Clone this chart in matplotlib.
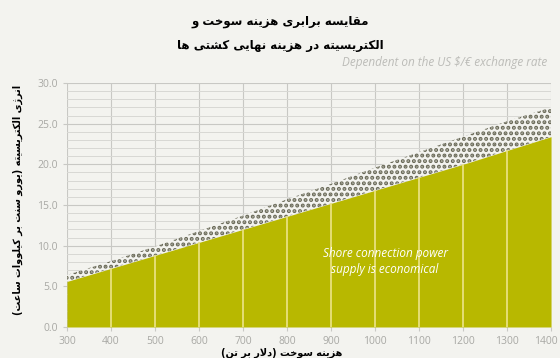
import numpy as np
import matplotlib
matplotlib.use("Agg")
import matplotlib.pyplot as plt
import matplotlib.transforms as mtransforms
from matplotlib.ticker import MultipleLocator, FormatStrFormatter

# داده ها (خوانده شده از تصویر)
fuel_cost = [300, 400, 500, 600, 700, 800, 900, 1000, 1100, 1200, 1300, 1400]
power_low = [5.6, 7.2, 8.8, 10.4, 12.0, 13.6, 15.2, 16.8, 18.4, 20.0, 21.7, 23.4]
power_high = [6.4, 8.1, 9.9, 11.8, 13.7, 15.7, 17.6, 19.6, 21.5, 23.4, 25.3, 27.0]
x_ticks = [300, 400, 500, 600, 700, 800, 900, 1000, 1100, 1200, 1300, 1400]

title_fa = ["مقایسه برابری هزینه سوخت و", "الکتریسیته در هزینه نهایی کشتی ها"]
ylabel_fa = "انرژی الکتریسیته (یورو سنت بر کیلووات ساعت)"
xlabel_fa = "هزینه سوخت (دلار بر تن)"
subtitle = "Dependent on the US \$/€ exchange rate"
inside_text = "Shore connection power\nsupply is economical"

# شکل دادن ساده به حروف فارسی (matplotlib خودش حروف را به هم وصل نمی کند)
# (isolated, final, initial, medial)
FORMS = {
    "ا": ("\uFE8D", "\uFE8E"), "د": ("\uFEA9", "\uFEAA"), "ر": ("\uFEAD", "\uFEAE"),
    "ز": ("\uFEAF", "\uFEB0"), "ژ": ("\uFB8A", "\uFB8B"), "و": ("\uFEED", "\uFEEE"),
    "ب": ("\uFE8F", "\uFE90", "\uFE91", "\uFE92"), "ت": ("\uFE95", "\uFE96", "\uFE97", "\uFE98"),
    "خ": ("\uFEA5", "\uFEA6", "\uFEA7", "\uFEA8"), "س": ("\uFEB1", "\uFEB2", "\uFEB3", "\uFEB4"),
    "ش": ("\uFEB5", "\uFEB6", "\uFEB7", "\uFEB8"), "ع": ("\uFEC9", "\uFECA", "\uFECB", "\uFECC"),
    "ق": ("\uFED5", "\uFED6", "\uFED7", "\uFED8"), "ک": ("\uFB8E", "\uFB8F", "\uFB90", "\uFB91"),
    "ل": ("\uFEDD", "\uFEDE", "\uFEDF", "\uFEE0"), "م": ("\uFEE1", "\uFEE2", "\uFEE3", "\uFEE4"),
    "ن": ("\uFEE5", "\uFEE6", "\uFEE7", "\uFEE8"), "ه": ("\uFEE9", "\uFEEA", "\uFEEB", "\uFEEC"),
    "ی": ("\uFBFC", "\uFBFD", "\uFBFE", "\uFBFF"),
}


def fa(text):
    chars = list(text)
    out = []
    i = 0
    while i < len(chars):
        c = chars[i]
        prev = chars[i - 1] if i > 0 else None
        join_prev = prev in FORMS and len(FORMS[prev]) == 4
        # لام الف
        if c == "ل" and i + 1 < len(chars) and chars[i + 1] == "ا":
            out.append("\uFEFC" if join_prev else "\uFEFB")
            i += 2
            continue
        if c not in FORMS:
            out.append({"(": ")", ")": "("}.get(c, c))
            i += 1
            continue
        f = FORMS[c]
        nxt = chars[i + 1] if i + 1 < len(chars) else None
        join_next = len(f) == 4 and nxt in FORMS
        if join_prev and join_next:
            out.append(f[3])
        elif join_prev:
            out.append(f[1])
        elif join_next:
            out.append(f[2])
        else:
            out.append(f[0])
        i += 1
    return "".join(out[::-1])


bg = "#f3f3ef"
green = "#b8b800"
plt.rcParams["hatch.linewidth"] = 2.0

fig = plt.figure(figsize=(5.6, 3.58), dpi=100, facecolor=bg)
ax = fig.add_axes([0.1196, 0.0866, 0.8644, 0.6816], facecolor=bg)

ax.fill_between(fuel_cost, power_low, power_high, facecolor=bg, edgecolor="#6a6a58",
                hatch="...", linewidth=0, zorder=2)
ax.fill_between(fuel_cost, 0, power_low, color=green, linewidth=0, zorder=3)
ax.vlines(fuel_cost[1:-1], 0, power_low[1:-1], color="#ece48a", linewidth=1.2, zorder=4)

ax.set_xlim(300, 1400)
ax.set_ylim(0, 30)
ax.set_xticks(x_ticks)
ax.yaxis.set_major_locator(MultipleLocator(5))
ax.yaxis.set_minor_locator(MultipleLocator(1))
ax.yaxis.set_major_formatter(FormatStrFormatter("%.1f"))
ax.grid(True, which="major", color="#c8c8c4", linewidth=0.8, zorder=0)
ax.grid(True, which="minor", axis="y", color="#d8d8d4", linewidth=0.7, zorder=0)
ax.set_axisbelow(True)
for s in ax.spines.values():
    s.set_visible(False)
ax.tick_params(colors="#c8c8c4", labelcolor="#a8a8a4", labelsize=7.5, length=3, width=0.8)
ax.tick_params(which="minor", length=0)
for lab in ax.get_xticklabels() + ax.get_yticklabels():
    lab.set_family("Open Sans")
# 1400 کمی به چپ تا بیرون نزند
last = ax.get_xticklabels()[-1]
last.set_transform(last.get_transform() + mtransforms.ScaledTranslation(-4 / 72, 0, fig.dpi_scale_trans))

ax.text(1023, 8.1, inside_text, color="white", style="italic", fontsize=8.5,
        ha="center", va="center", linespacing=1.3, family="Open Sans", zorder=5)

fig.text(0.5, 0.94, fa(title_fa[0]), ha="center", va="center", fontsize=8.5,
         fontweight="bold", family="DejaVu Sans")
fig.text(0.5, 0.872, fa(title_fa[1]), ha="center", va="center", fontsize=8.5,
         fontweight="bold", family="DejaVu Sans")
fig.text(0.978, 0.826, subtitle, ha="right", va="center", fontsize=8.5,
         style="italic", color="#bcbcb8", family="Open Sans")
fig.text(0.032, 0.441, fa(ylabel_fa), rotation=90, ha="center", va="center",
         fontsize=7, fontweight="bold", family="DejaVu Sans")
fig.text(0.503, 0.014, fa(xlabel_fa), ha="center", va="center", fontsize=7,
         fontweight="bold", family="DejaVu Sans")

fig.savefig("out.png", dpi=100, facecolor=bg)
